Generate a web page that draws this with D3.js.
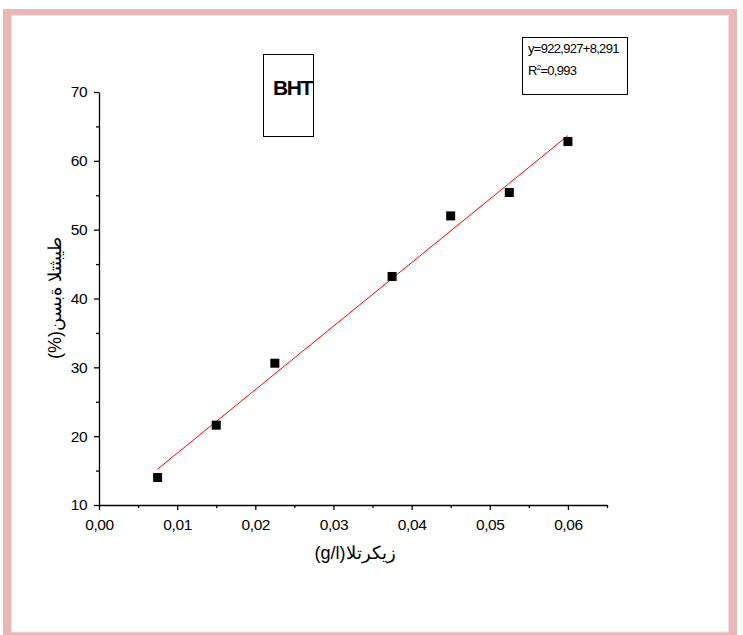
<!DOCTYPE html>
<html>
<head>
<meta charset="utf-8">
<script src="https://cdn.jsdelivr.net/npm/d3@7"></script>
<style>
  body { margin: 0; background: #fff; }
  svg { display: block; font-family: "Liberation Sans", Arial, sans-serif; }
</style>
</head>
<body>
<div id="chart"></div>
<script>
// data
var concentration = [0.0075, 0.015, 0.0225, 0.0375, 0.045, 0.0525, 0.06];
var inhibition = [14, 21.6, 30.6, 43.2, 52, 55.4, 62.8];
var fitSlope = 922.927, fitIntercept = 8.291;
var xTicks = [0, 0.01, 0.02, 0.03, 0.04, 0.05, 0.06];
var yTicks = [10, 20, 30, 40, 50, 60, 70];
var eqLines = ["y=922,927+8,291", "R", "=0,993"];

var width = 743, height = 635;
var svg = d3.select("#chart").append("svg")
    .attr("width", width)
    .attr("height", height);

// pink frame
svg.append("path")
    .attr("d", "M3,9H737V635H3Z M11,15V632H729V15Z")
    .attr("fill", "#e8b7b8")
    .attr("fill-rule", "evenodd");
svg.append("rect")
    .attr("x", 11.5).attr("y", 15.5)
    .attr("width", 717).attr("height", 616.5)
    .attr("fill", "none")
    .attr("stroke", "#f6e0e0");

var plot = {left: 99, right: 607, top: 92, bottom: 505};

var x = d3.scaleLinear().domain([0, 0.065]).range([plot.left, plot.right]);
var y = d3.scaleLinear().domain([10, 70]).range([plot.bottom, plot.top]);

var fmt = function (d) { return d.toFixed(2).replace(".", ","); };

// x axis
var xAxis = svg.append("g").attr("transform", "translate(0," + plot.bottom + ")");
xAxis.call(d3.axisBottom(x).tickValues(xTicks).tickFormat(fmt).tickSize(5).tickSizeOuter(0));
xAxis.append("g").call(d3.axisBottom(x)
    .tickValues(d3.range(0.005, 0.066, 0.01)).tickFormat("").tickSize(3).tickSizeOuter(0))
    .select(".domain").remove();

// y axis
var yAxis = svg.append("g").attr("transform", "translate(" + plot.left + ",0)");
yAxis.call(d3.axisLeft(y).tickValues(yTicks).tickSize(5).tickSizeOuter(0));
yAxis.append("g").call(d3.axisLeft(y)
    .tickValues(d3.range(15, 70, 10)).tickFormat("").tickSize(3).tickSizeOuter(0))
    .select(".domain").remove();

svg.selectAll(".domain, .tick line").attr("stroke", "#000").attr("stroke-width", 1.3);
xAxis.selectAll(".tick text").attr("font-size", 15.5).attr("dy", "1.1em")
    .attr("letter-spacing", -0.4).attr("fill", "#000");
yAxis.selectAll(".tick text").attr("font-size", 15.5).attr("dx", "-0.25em")
    .attr("letter-spacing", -0.4).attr("fill", "#000");

// fitted line
var xs = [concentration[0], concentration[concentration.length - 1]];
svg.append("line")
    .attr("x1", x(xs[0])).attr("y1", y(fitSlope * xs[0] + fitIntercept))
    .attr("x2", x(xs[1])).attr("y2", y(fitSlope * xs[1] + fitIntercept))
    .attr("stroke", "#ff0000")
    .attr("stroke-width", 1);

// points
svg.selectAll("rect.pt")
    .data(concentration)
    .enter()
    .append("rect")
    .attr("class", "pt")
    .attr("x", function (d) { return x(d) - 4.5; })
    .attr("y", function (d, i) { return y(inhibition[i]) - 4.5; })
    .attr("width", 9).attr("height", 9)
    .attr("fill", "#000");

// axis titles
svg.append("text")
    .attr("x", 355).attr("y", 559)
    .attr("text-anchor", "middle")
    .attr("font-size", 18)
    .text("(g/l)\u200Eزيكرتلا");

svg.append("text")
    .attr("transform", "translate(61,298) rotate(-90)")
    .attr("text-anchor", "middle")
    .attr("font-size", 18)
    .text("(%)\u200Eطيبثتلا ةبسن");

// BHT box
svg.append("rect")
    .attr("x", 263.5).attr("y", 54.5).attr("width", 50).attr("height", 82)
    .attr("fill", "none").attr("stroke", "#000").attr("stroke-width", 1);
svg.append("text")
    .attr("x", 273).attr("y", 95)
    .attr("font-size", 21).attr("font-weight", "bold")
    .attr("letter-spacing", -1.4)
    .text("BHT");

// equation box
svg.append("rect")
    .attr("x", 522.5).attr("y", 37.5).attr("width", 105).attr("height", 57)
    .attr("fill", "#fff").attr("stroke", "#000").attr("stroke-width", 1);
svg.append("text")
    .attr("x", 528).attr("y", 53)
    .attr("font-size", 13).attr("letter-spacing", -0.7)
    .text(eqLines[0]);
var r2 = svg.append("text")
    .attr("x", 528).attr("y", 75)
    .attr("font-size", 13).attr("letter-spacing", -0.7);
r2.append("tspan").text(eqLines[1]);
r2.append("tspan").attr("font-size", 8).attr("dy", -5).text("2");
r2.append("tspan").attr("dy", 5).text(eqLines[2]);
</script>
</body>
</html>
